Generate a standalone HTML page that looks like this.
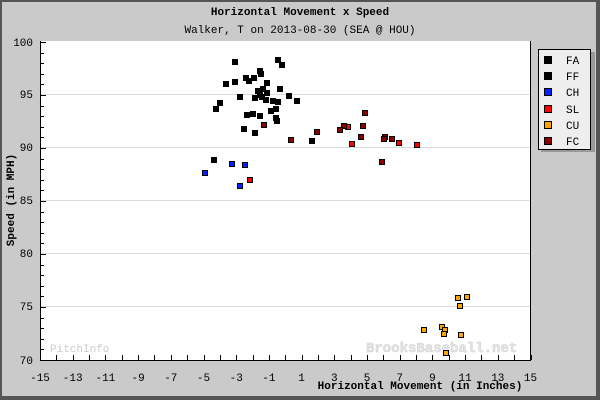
<!DOCTYPE html>
<html><head><style>
body{margin:0;width:600px;height:400px;overflow:hidden;background:#fff}
svg text{font-family:"Liberation Mono",monospace}
</style></head><body>
<svg width="600" height="400" xmlns="http://www.w3.org/2000/svg">
<rect x="0" y="0" width="600" height="400" fill="#555"/>
<rect x="2" y="2" width="594" height="394" fill="#cacaca"/>
<rect x="40" y="41" width="491" height="319" fill="#fff"/>
<g stroke="#dcdcdc" stroke-width="1">
<line x1="40" x2="531" y1="94.5" y2="94.5"/><line x1="40" x2="531" y1="147.5" y2="147.5"/>
<line x1="40" x2="531" y1="200.5" y2="200.5"/><line x1="40" x2="531" y1="253.5" y2="253.5"/>
<line x1="40" x2="531" y1="306.5" y2="306.5"/>
</g>
<g stroke="#000" stroke-width="1">
<line x1="40.5" y1="41" x2="40.5" y2="360"/>
<line x1="40" y1="360.5" x2="531" y2="360.5"/>
<line x1="530.5" y1="41" x2="530.5" y2="360"/>
</g>
<g stroke="#000" id="xt"></g>
<g stroke="#000" id="yt"></g>
<text x="300" y="15" text-anchor="middle" font-size="11" font-weight="bold">Horizontal Movement x Speed</text>
<text x="300" y="33" text-anchor="middle" font-size="11">Walker, T on 2013-08-30 (SEA @ HOU)</text>
<g font-size="11" text-anchor="end">
<text x="33" y="46">100</text><text x="33" y="98">95</text><text x="33" y="151">90</text>
<text x="33" y="204">85</text><text x="33" y="257">80</text><text x="33" y="310">75</text><text x="33" y="364">70</text>
</g>
<g font-size="11" text-anchor="middle" id="xl"></g>
<text x="420" y="389" text-anchor="middle" font-size="11" font-weight="bold">Horizontal Movement (in Inches)</text>
<text transform="translate(14,200) rotate(-90)" text-anchor="middle" font-size="11" font-weight="bold">Speed (in MPH)</text>
<text x="50" y="352" font-size="11" fill="#ccc" font-family="Liberation Sans">PitchInfo</text>
<text x="366" y="352" font-size="14" font-weight="bold" fill="#e4e4e4" stroke="#d0d0d0" stroke-width="0.5" font-family="Liberation Sans">BrooksBaseball.net</text>
<g id="pts" stroke="#000" stroke-width="1"></g>
<rect x="541" y="52" width="54" height="100" fill="#999"/>
<rect x="538.5" y="49.5" width="52" height="100" fill="#eee" stroke="#000"/>
<g stroke="#000" font-size="11">
<rect x="544.5" y="56.5" width="7" height="7" fill="#000"/><text x="566" y="64" stroke="none">FA</text>
<rect x="544.5" y="72.5" width="7" height="7" fill="#000"/><text x="566" y="80" stroke="none">FF</text>
<rect x="544.5" y="88.5" width="7" height="7" fill="#0022ff"/><text x="566" y="96" stroke="none">CH</text>
<rect x="544.5" y="105.5" width="7" height="7" fill="#ff0000"/><text x="566" y="113" stroke="none">SL</text>
<rect x="544.5" y="121.5" width="7" height="7" fill="#ffa500"/><text x="566" y="129" stroke="none">CU</text>
<rect x="544.5" y="137.5" width="7" height="7" fill="#880000"/><text x="566" y="145" stroke="none">FC</text>
</g>
</svg>
<script>
var ns="http://www.w3.org/2000/svg";
function el(p,t,a,txt){var e=document.createElementNS(ns,t);for(var k in a)e.setAttribute(k,a[k]);if(txt)e.textContent=txt;document.getElementById(p).appendChild(e);}
for(var i=-15;i<=15;i++){var x=40+(i+15)*16.35;el("xt","line",{x1:Math.round(x)+.5,x2:Math.round(x)+.5,y1:355,y2:360});if((i+15)%2==0)el("xl","text",{x:x,y:381},String(i));}
for(var v=70;v<=100;v++){var y=360-(v-70)*10.6;el("yt","line",{x1:40,x2:v%5==0?46:44,y1:Math.round(y)+.5,y2:Math.round(y)+.5});}
var P={"#000":[[235,62],[278,60],[282,65],[260,71],[261,74],[246,78],[249,81],[254,78],[235,82],[226,84],[267,83],[280,89],[258,91],[263,89],[267,93],[260,95],[240,97],[255,98],[262,97],[266,100],[273,101],[278,102],[289,96],[297,101],[220,103],[216,109],[271,111],[276,109],[276,118],[277,121],[247,115],[253,114],[260,116],[244,129],[255,133],[312,141],[214,160]],
"#0022ff":[[205,173],[232,164],[245,165],[240,186]],
"#ff0000":[[250,180],[348,127],[352,144],[399,143],[417,145]],
"#880000":[[264,125],[291,140],[317,132],[365,113],[344,126],[340,130],[363,126],[361,137],[385,137],[384,139],[392,139],[382,162]],
"#ffa500":[[458,298],[467,297],[460,306],[424,330],[442,327],[445,330],[444,334],[461,335],[446,353]]};
for(var c in P)P[c].forEach(function(p){el("pts","rect",{x:p[0]-2.5,y:p[1]-2.5,width:5,height:5,fill:c});});
</script>
</body></html>
